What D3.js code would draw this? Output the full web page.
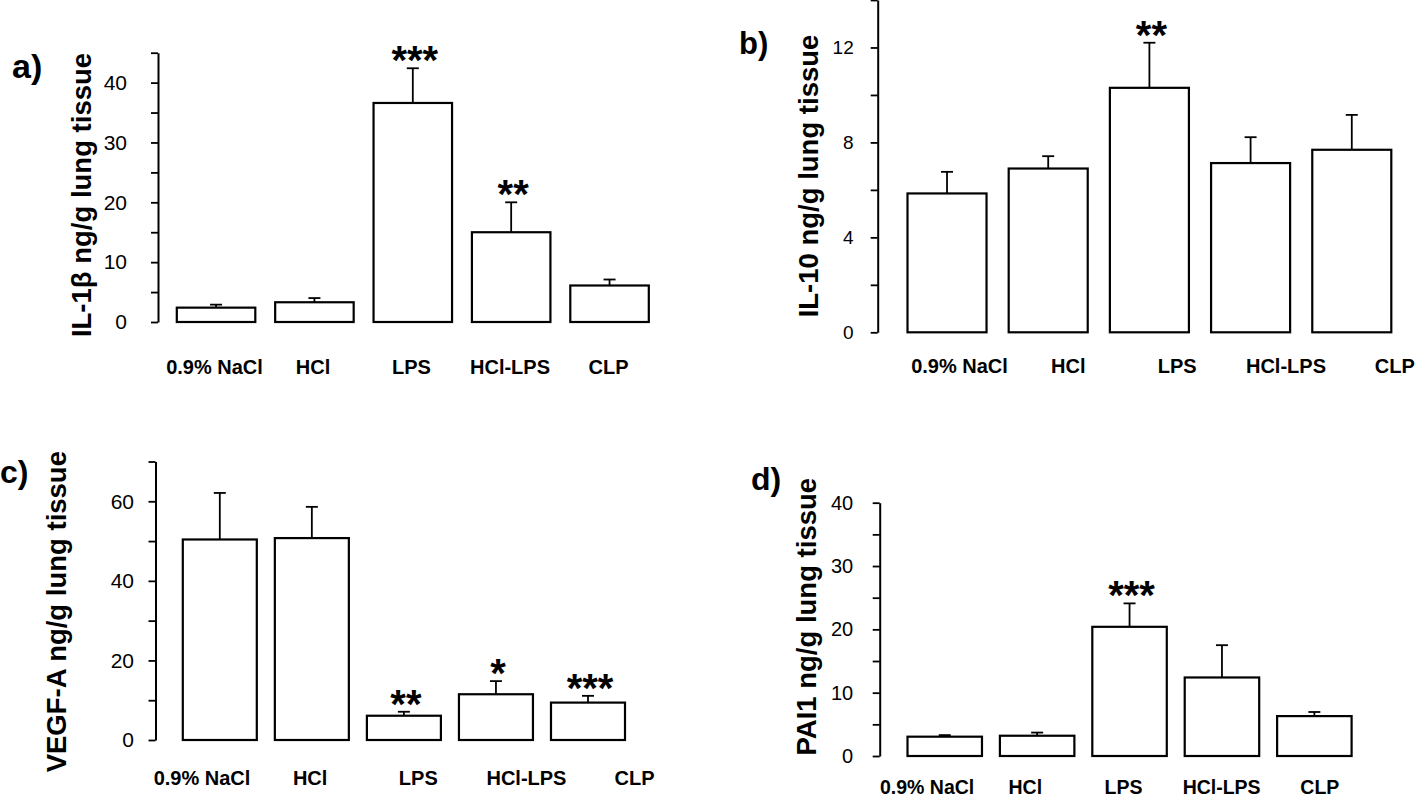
<!DOCTYPE html>
<html>
<head>
<meta charset="utf-8">
<script src="https://cdn.jsdelivr.net/npm/d3@7"></script>
<style>
  html, body { margin: 0; padding: 0; background: #fff; }
  svg { display: block; }
  text { font-family: "Liberation Sans", Arial, sans-serif; fill: #000; }
</style>
</head>
<body>
<svg id="chart" width="1418" height="800"></svg>
<script>
// ---------- data ----------
const categories = ["0.9% NaCl", "HCl", "LPS", "HCl-LPS", "CLP"];

const il1bValues = [2.4, 3.3, 36.6, 15.0, 6.1];
const il1bErrors = [0.5, 0.7, 5.8, 5.0, 1.0];
const il1bStars  = ["", "", "***", "**", ""];

const il10Values = [5.85, 6.9, 10.3, 7.13, 7.69];
const il10Errors = [0.91, 0.52, 1.9, 1.09, 1.47];
const il10Stars  = ["", "", "**", "", ""];

const vegfValues = [50.4, 50.75, 6.1, 11.5, 9.4];
const vegfErrors = [11.7, 7.85, 1.0, 3.3, 1.7];
const vegfStars  = ["", "", "**", "*", "***"];

const pai1Values = [3.05, 3.2, 20.4, 12.4, 6.3];
const pai1Errors = [0.25, 0.5, 3.7, 5.1, 0.65];
const pai1Stars  = ["", "", "***", "", ""];

const il1bTicks = [0, 5, 10, 15, 20, 25, 30, 35, 40, 45];
const il10Ticks = [0, 2, 4, 6, 8, 10, 12, 14];
const vegfTicks = [0, 10, 20, 30, 40, 50, 60, 70];
const pai1Ticks = [0, 5, 10, 15, 20, 25, 30, 35, 40];

const il1bTickLabels = [0, 10, 20, 30, 40];
const il10TickLabels = [0, 4, 8, 12];
const vegfTickLabels = [0, 20, 40, 60];
const pai1TickLabels = [0, 10, 20, 30, 40];

// ---------- layout (positions only) ----------
const panels = [
  { tag: "a)", title: "IL-1β ng/g lung tissue", values: il1bValues, errors: il1bErrors, stars: il1bStars,
    ticks: il1bTicks, tickLabels: il1bTickLabels,
    axisX: 158, y0: 322, yTop: 52.7, pad: 24, tickFont: 21,
    band: [176.8, 648.8], pi: 0.202, labelRange: [214.5, 608.5], labelY: 374, labelFont: 20,
    titleX: 91, titleY: 195, tagX: 12, tagY: 78, tagSize: 34 },
  { tag: "b)", title: "IL-10 ng/g lung tissue", values: il10Values, errors: il10Errors, stars: il10Stars,
    ticks: il10Ticks, tickLabels: il10TickLabels,
    axisX: 877.7, y0: 332.3, yTop: 0, pad: 17, tickFont: 19,
    band: [907.5, 1391.3], pi: 0.219, labelRange: [959.5, 1394.8], labelY: 373, labelFont: 20,
    titleX: 818, titleY: 176, tagX: 739, tagY: 54, tagSize: 31 },
  { tag: "c)", title: "VEGF-A ng/g lung tissue", values: vegfValues, errors: vegfErrors, stars: vegfStars,
    ticks: vegfTicks, tickLabels: vegfTickLabels,
    axisX: 155.5, y0: 740, yTop: 461.5, pad: 14.5, tickFont: 21,
    band: [182.8, 625.0], pi: 0.196, labelRange: [202, 634.6], labelY: 785, labelFont: 20,
    titleX: 66.4, titleY: 611.7, tagX: 0, tagY: 483, tagSize: 32 },
  { tag: "d)", title: "PAI1 ng/g lung tissue", values: pai1Values, errors: pai1Errors, stars: pai1Stars,
    ticks: pai1Ticks, tickLabels: pai1TickLabels,
    axisX: 879.7, y0: 756, yTop: 502.7, pad: 19.5, tickFont: 20,
    band: [907.5, 1351.6], pi: 0.194, labelRange: [927.1, 1319.8], labelY: 794, labelFont: 19.5,
    titleX: 816, titleY: 616.7, tagX: 751, tagY: 490, tagSize: 32 }
];

const svg = d3.select("#chart");

panels.forEach(p => {
  const g = svg.append("g");
  const yMax = d3.max(p.ticks);
  const y = d3.scaleLinear().domain([0, yMax]).range([p.y0, p.yTop]);
  const x = d3.scaleBand().domain(categories).range(p.band).paddingInner(p.pi).paddingOuter(0);
  const xl = d3.scalePoint().domain(categories).range(p.labelRange);

  // y axis
  const axis = d3.axisLeft(y)
    .tickValues(p.ticks)
    .tickSize(7)
    .tickSizeOuter(0)
    .tickPadding(p.pad)
    .tickFormat(d => p.tickLabels.includes(d) ? d3.format("d")(d) : "");
  const ag = g.append("g").attr("transform", `translate(${p.axisX},0)`).call(axis);
  ag.select(".domain").attr("stroke", "#000").attr("stroke-width", 2);
  ag.selectAll(".tick line").attr("stroke", "#000").attr("stroke-width", 1.8);
  ag.selectAll(".tick text")
    .style("font-family", "'Liberation Sans', Arial, sans-serif")
    .style("font-size", p.tickFont + "px")
    .attr("fill", "#000");

  const data = categories.map((c, i) => ({ c, v: p.values[i], e: p.errors[i], s: p.stars[i] }));

  // error bars (upper only)
  const eb = g.append("g").attr("stroke", "#000").attr("stroke-width", 1.8);
  eb.selectAll("line.stem").data(data).join("line")
    .attr("x1", d => x(d.c) + x.bandwidth() / 2)
    .attr("x2", d => x(d.c) + x.bandwidth() / 2)
    .attr("y1", d => y(d.v))
    .attr("y2", d => y(d.v + d.e));
  eb.selectAll("line.cap").data(data).join("line")
    .attr("x1", d => x(d.c) + x.bandwidth() / 2 - 6)
    .attr("x2", d => x(d.c) + x.bandwidth() / 2 + 6)
    .attr("y1", d => y(d.v + d.e))
    .attr("y2", d => y(d.v + d.e));

  // bars
  g.append("g").selectAll("rect").data(data).join("rect")
    .attr("x", d => x(d.c))
    .attr("width", x.bandwidth())
    .attr("y", d => y(d.v))
    .attr("height", d => y(0) - y(d.v))
    .attr("fill", "#fff")
    .attr("stroke", "#000")
    .attr("stroke-width", 2.2);

  // significance stars
  g.append("g").selectAll("text").data(data.filter(d => d.s)).join("text")
    .attr("x", d => x(d.c) + x.bandwidth() / 2 + 2)
    .attr("y", d => y(d.v + d.e) + 6)
    .attr("text-anchor", "middle")
    .style("font-size", "40px")
    .style("font-weight", "bold")
    .text(d => d.s);

  // category labels
  g.append("g").selectAll("text").data(categories).join("text")
    .attr("x", d => xl(d))
    .attr("y", p.labelY)
    .attr("text-anchor", "middle")
    .style("font-size", p.labelFont + "px")
    .style("font-weight", "bold")
    .text(d => d);

  // y title
  g.append("text")
    .attr("transform", `translate(${p.titleX},${p.titleY}) rotate(-90)`)
    .attr("text-anchor", "middle")
    .style("font-size", "27.5px")
    .style("font-weight", "bold")
    .text(p.title);

  // panel tag
  g.append("text")
    .attr("x", p.tagX)
    .attr("y", p.tagY)
    .style("font-size", p.tagSize + "px")
    .style("font-weight", "bold")
    .text(p.tag);
});
</script>
</body>
</html>
